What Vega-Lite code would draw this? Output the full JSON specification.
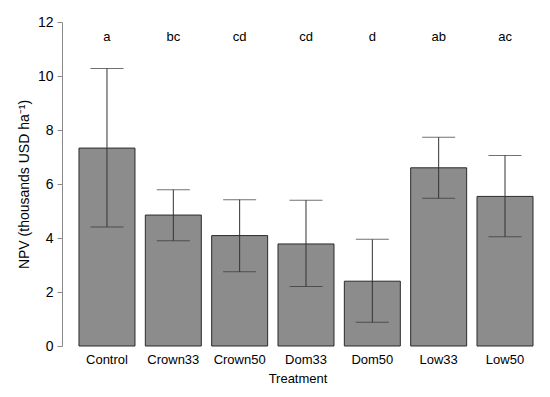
{
  "$schema": "https://vega.github.io/schema/vega-lite/v6.json",
  "autosize": {"type": "none"},
  "padding": {"left": 62, "top": 22, "right": 17, "bottom": 51},
  "width": 471,
  "height": 324,
  "background": "white",
  "config": {
    "view": {"stroke": null},
    "font": "Liberation Sans",
    "axis": {"grid": false, "labelFont": "Liberation Sans", "titleFont": "Liberation Sans", "labelColor": "#000", "titleColor": "#000", "titleFontWeight": "normal"}
  },
  "data": {
    "values": [
      {"treatment": "Control", "npv": 7.33, "lo": 4.41, "hi": 10.28, "letter": "a"},
      {"treatment": "Crown33", "npv": 4.85, "lo": 3.9, "hi": 5.79, "letter": "bc"},
      {"treatment": "Crown50", "npv": 4.09, "lo": 2.75, "hi": 5.42, "letter": "cd"},
      {"treatment": "Dom33", "npv": 3.78, "lo": 2.2, "hi": 5.4, "letter": "cd"},
      {"treatment": "Dom50", "npv": 2.4, "lo": 0.88, "hi": 3.95, "letter": "d"},
      {"treatment": "Low33", "npv": 6.6, "lo": 5.47, "hi": 7.73, "letter": "ab"},
      {"treatment": "Low50", "npv": 5.54, "lo": 4.05, "hi": 7.06, "letter": "ac"}
    ]
  },
  "encoding": {
    "x": {
      "field": "treatment", "type": "nominal", "sort": null,
      "scale": {"paddingInner": 0.156, "paddingOuter": 0.128, "align": 1},
      "axis": {"title": "Treatment", "labelAngle": 0, "domain": false, "ticks": false, "labelFontSize": 13, "labelPadding": 7, "titleFontSize": 13, "titlePadding": 6}
    }
  },
  "layer": [
    {
      "mark": {"type": "bar", "color": "#8c8c8c", "stroke": "#2b2b2b", "strokeWidth": 1},
      "encoding": {
        "y": {
          "field": "npv", "type": "quantitative",
          "scale": {"domain": [0, 12], "nice": false, "zero": true},
          "axis": {"title": "NPV (thousands USD ha⁻¹)", "values": [0, 2, 4, 6, 8, 10, 12], "domainColor": "#8a8a8a", "tickColor": "#8a8a8a", "tickSize": 5, "labelFontSize": 14, "labelPadding": 4, "titleFontSize": 14, "titlePadding": 6}
        }
      }
    },
    {
      "mark": {"type": "rule", "color": "#333", "strokeWidth": 1},
      "encoding": {
        "y": {"field": "lo", "type": "quantitative"},
        "y2": {"field": "hi"}
      }
    },
    {
      "mark": {"type": "tick", "color": "#333", "size": 33, "thickness": 1},
      "encoding": {"y": {"field": "lo", "type": "quantitative"}}
    },
    {
      "mark": {"type": "tick", "color": "#333", "size": 33, "thickness": 1},
      "encoding": {"y": {"field": "hi", "type": "quantitative"}}
    },
    {
      "mark": {"type": "text", "fontSize": 13, "color": "#000", "baseline": "middle"},
      "encoding": {
        "y": {"datum": 11.45, "type": "quantitative"},
        "text": {"field": "letter"}
      }
    }
  ]
}
